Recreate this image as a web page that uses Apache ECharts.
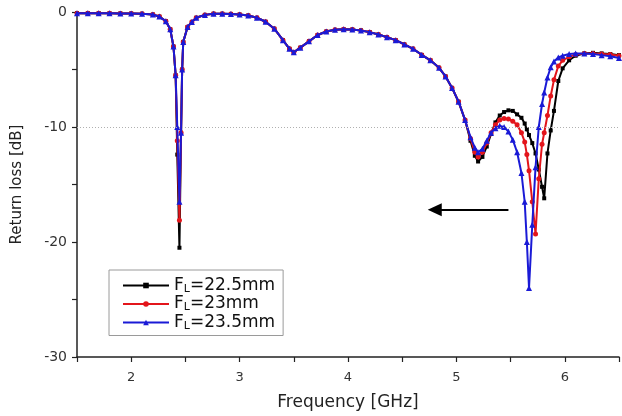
<!DOCTYPE html>
<html>
<head>
<meta charset="utf-8">
<script src="https://cdn.jsdelivr.net/npm/echarts@6/dist/echarts.min.js"></script>
<style>html,body{margin:0;padding:0;background:#fff;}#c{width:622px;height:416px;}</style>
</head>
<body>
<div id="c"></div>
<script>
var freq = [1.5,1.6,1.7,1.8,1.9,2.0,2.1,2.2,2.26,2.32,2.36,2.39,2.41,2.425,2.445,2.46,2.47,2.48,2.52,2.56,2.6,2.68,2.76,2.84,2.92,3.0,3.08,3.16,3.24,3.32,3.4,3.46,3.5,3.56,3.64,3.72,3.8,3.88,3.96,4.04,4.12,4.2,4.28,4.36,4.44,4.52,4.6,4.68,4.76,4.84,4.9,4.96,5.02,5.08,5.13,5.17,5.2,5.24,5.28,5.32,5.36,5.4,5.44,5.48,5.52,5.56,5.6,5.63,5.65,5.67,5.7,5.73,5.76,5.79,5.81,5.84,5.87,5.9,5.94,5.98,6.04,6.1,6.18,6.26,6.34,6.42,6.5];

var fl225 = [-0.10,-0.10,-0.10,-0.11,-0.12,-0.13,-0.15,-0.22,-0.4,-0.8,-1.5,-3.0,-5.5,
  -12.4,-20.5,
  -10.5,-5.0,-2.6,-1.3,-0.86,-0.5,-0.25,-0.15,-0.15,-0.17,-0.22,-0.3,-0.5,-0.85,-1.45,-2.45,-3.2,-3.5,-3.1,-2.55,-2.0,-1.7,-1.55,-1.5,-1.52,-1.6,-1.75,-1.95,-2.2,-2.45,-2.82,-3.2,-3.73,-4.2,-4.85,-5.6,-6.6,-7.8,-9.4,
  -11.2,-12.5,-13.0,-12.6,-11.7,-10.6,-9.6,-9.0,-8.7,-8.55,-8.6,-8.9,-9.2,-9.7,-10.2,-10.7,-11.4,-12.3,-13.7,-15.2,-16.2,-12.3,-10.3,-8.6,-6.0,-4.9,-4.2,-3.8,-3.6,-3.55,-3.6,-3.65,-3.75];

var fl23 = [-0.10,-0.10,-0.10,-0.11,-0.12,-0.13,-0.15,-0.22,-0.4,-0.8,-1.5,-3.0,-5.5,
  -11.2,-18.1,
  -10.5,-5.0,-2.6,-1.3,-0.86,-0.5,-0.25,-0.15,-0.15,-0.17,-0.22,-0.3,-0.5,-0.85,-1.45,-2.45,-3.2,-3.5,-3.1,-2.55,-2.0,-1.7,-1.55,-1.5,-1.52,-1.6,-1.75,-1.95,-2.2,-2.45,-2.82,-3.2,-3.73,-4.2,-4.85,-5.6,-6.6,-7.8,-9.4,
  -11.0,-12.2,-12.6,-12.2,-11.4,-10.5,-9.8,-9.4,-9.25,-9.3,-9.5,-9.8,-10.5,-11.3,-12.4,-13.8,-16.5,-19.3,-14.5,-11.5,-10.5,-9.0,-7.3,-5.9,-4.7,-4.2,-3.9,-3.7,-3.6,-3.6,-3.65,-3.7,-3.8];

var fl235 = [-0.10,-0.10,-0.10,-0.11,-0.12,-0.13,-0.15,-0.22,-0.4,-0.8,-1.5,-3.0,-5.5,
  -10.0,-16.5,
  -10.5,-5.0,-2.6,-1.3,-0.86,-0.5,-0.25,-0.15,-0.15,-0.17,-0.22,-0.3,-0.5,-0.85,-1.45,-2.45,-3.2,-3.5,-3.1,-2.55,-2.0,-1.7,-1.55,-1.5,-1.52,-1.6,-1.75,-1.95,-2.2,-2.45,-2.82,-3.2,-3.73,-4.2,-4.85,-5.6,-6.6,-7.8,-9.4,
  -10.9,-11.8,-12.2,-11.9,-11.2,-10.5,-10.1,-9.9,-10.0,-10.4,-11.1,-12.2,-14.0,-16.5,-20.0,-24.0,-18.5,-13.5,-10.0,-8.0,-7.0,-5.7,-4.8,-4.3,-3.95,-3.8,-3.65,-3.6,-3.6,-3.65,-3.75,-3.85,-4.0];

var seriesNames = ['FL=22.5mm', 'FL=23mm', 'FL=23.5mm'];
var seriesSub = [['F','L','=22.5mm'], ['F','L','=23mm'], ['F','L','=23.5mm']];
var refLevel = -10;
var arrowFrom = [5.48, -17.2];
var arrowTo = [4.80, -17.2];
var yTicks = [-30, -20, -10, 0];

function pairs(vals) { return freq.map(function (f, i) { return [f, vals[i]]; }); }

var FONT = 'DejaVu Sans, Verdana, sans-serif';
var colors = ['#000000', '#e3151b', '#1a1ad6'];
var symbols = ['rect', 'circle', 'triangle'];
var sizes = [4, 5, 6];
var allVals = [fl225, fl23, fl235];

var series = allVals.map(function (v, k) {
  return {
    name: seriesNames[k],
    type: 'line',
    data: pairs(v),
    showAllSymbol: true,
    symbol: symbols[k],
    symbolSize: sizes[k],
    lineStyle: { color: colors[k], width: 2 },
    itemStyle: { color: colors[k] },
    z: 2 + k,
    animation: false
  };
});
series[0].markLine = {
  silent: true, symbol: ['none', 'none'], label: { show: false },
  lineStyle: { color: '#b0b0b0', type: [1, 2], width: 1 },
  data: [{ yAxis: refLevel }]
};
series[1].markLine = {
  silent: true, symbol: ['none', 'triangle'], symbolSize: [13, 14], label: { show: false },
  lineStyle: { color: '#000', type: 'solid', width: 2 },
  data: [[{ coord: arrowFrom }, { coord: arrowTo }]]
};

var chart = echarts.init(document.getElementById('c'));
chart.setOption({
  animation: false,
  backgroundColor: '#fff',
  grid: { left: 77, right: 0, top: 12, bottom: 56, containLabel: false },
  xAxis: {
    type: 'value', min: 1.5, max: 6.5, interval: 0.5,
    name: 'Frequency [GHz]', nameLocation: 'middle', nameGap: 37,
    nameTextStyle: { fontFamily: FONT, fontSize: 17, color: '#222' },
    axisLine: { show: true, onZero: false, lineStyle: { color: '#222', width: 1.5 } },
    axisTick: { show: true, inside: false, length: 5, lineStyle: { color: '#222', width: 1.2 } },
    axisLabel: {
      margin: 14, fontFamily: FONT, fontSize: 13, color: '#333',
      formatter: function (v) { return Math.abs(v - Math.round(v)) < 1e-6 ? String(Math.round(v)) : ''; }
    },
    splitLine: { show: false }
  },
  yAxis: {
    type: 'value', min: -30, max: 0, interval: 5,
    name: 'Return loss [dB]', nameLocation: 'middle', nameGap: 52, nameRotate: 90,
    nameTextStyle: { fontFamily: FONT, fontSize: 15, color: '#222' },
    axisLine: { show: true, onZero: false, lineStyle: { color: '#222', width: 1.5 } },
    axisTick: { show: true, inside: false, length: 5, lineStyle: { color: '#222', width: 1.2 } },
    axisLabel: {
      margin: 10, fontFamily: FONT, fontSize: 14, color: '#333',
      formatter: function (v) { return yTicks.indexOf(v) >= 0 ? String(v) : ''; }
    },
    splitLine: { show: false }
  },
  legend: {
    orient: 'vertical', left: 109, top: 270,
    itemWidth: 46, itemHeight: 7, itemGap: 1,
    padding: [7, 8, 4, 13],
    backgroundColor: '#fff', borderColor: '#9a9a9a', borderWidth: 1,
    data: seriesNames,
    formatter: function (name) {
      var s = seriesSub[seriesNames.indexOf(name)];
      return '{a|' + s[0] + '}{b|' + s[1] + '}{a|' + s[2] + '}';
    },
    textStyle: {
      color: '#111',
      rich: {
        a: { fontFamily: FONT, fontSize: 17, lineHeight: 18, color: '#111' },
        b: { fontFamily: FONT, fontSize: 11, lineHeight: 18, color: '#111', verticalAlign: 'bottom', padding: [5, 0, 0, 0] }
      }
    }
  },
  series: series
});
</script>
</body>
</html>
